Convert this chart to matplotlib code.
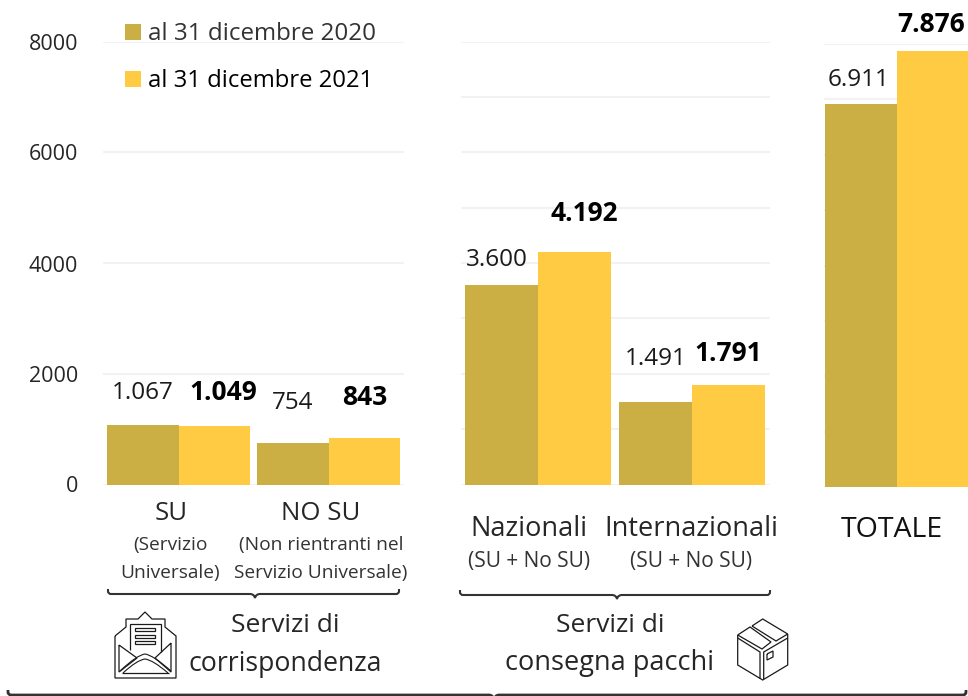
#!/usr/bin/env python3
"""Ricavi per servizio al 31 dicembre 2020 e 2021: three bar panels with annotations."""

import matplotlib
matplotlib.use("Agg")
import matplotlib.pyplot as plt
from matplotlib.patches import PathPatch, Rectangle
from matplotlib.path import Path

W, H = 968, 696
C_2020 = "#CBAF45"
C_2021 = "#FFCB43"
GRID = "#F2F2F2"
TXT = "#262626"

SERIES_2020 = "al 31 dicembre 2020"
SERIES_2021 = "al 31 dicembre 2021"

CORR_2020 = [1067, 754]
CORR_2021 = [1049, 843]
PACCHI_2020 = [3600, 1491]
PACCHI_2021 = [4192, 1791]
TOT_2020 = [6911]
TOT_2021 = [7876]

Y_TICKS = [0, 2000, 4000, 6000, 8000]
GRID_PACCHI = [0, 1000, 2000, 3000, 4000, 5000, 6000, 7000, 8000]

LABEL_FS = 17.5
BOLD_FS = 19

plt.rcParams["font.family"] = ["Open Sans", "DejaVu Sans"]


def fmt(v):
    return f"{v:,}".replace(",", ".")


def panel(fig, left, right, top, bottom, centre0, step, width, v0, v1, grid, off0, off1):
    ax = fig.add_axes([left / W, 1 - bottom / H, (right - left) / W, (bottom - top) / H])
    ax.set_xlim((left - centre0) / step, (right - centre0) / step)
    ax.set_ylim(0, 8000)
    x = list(range(len(v0)))
    ax.bar([i - width / 2 for i in x], v0, width, color=C_2020, zorder=3)
    ax.bar([i + width / 2 for i in x], v1, width, color=C_2021, zorder=3)
    ax.set_yticks(grid)
    ax.set_xticks([])
    ax.tick_params(left=False, labelleft=False)
    ax.grid(True, axis="y", color=GRID, lw=1.5, zorder=0)
    ax.set_axisbelow(True)
    for s in ax.spines.values():
        s.set_visible(False)
    ax.patch.set_alpha(0)
    for i in x:
        ax.annotate(fmt(v0[i]), (i - width / 2, v0[i]), xytext=off0[i],
                    textcoords="offset pixels", ha="center", va="center",
                    fontsize=LABEL_FS, color="#1a1a1a", zorder=5, annotation_clip=False)
        ax.annotate(fmt(v1[i]), (i + width / 2, v1[i]), xytext=off1[i],
                    textcoords="offset pixels", ha="center", va="center",
                    fontsize=BOLD_FS, fontweight="bold", color="black", zorder=5,
                    annotation_clip=False)
    return ax


def bracket(ax, x0, x1, y0, y1, notch, tip, lw=1.5):
    r = 3
    verts = [(x0, y0), (x0, y1 - r), (x0, y1), (x0 + r, y1), (notch - 5, y1),
             (notch - 1, y1), (notch, tip), (notch + 1, y1), (notch + 5, y1),
             (x1 - r, y1), (x1, y1), (x1, y1 - r), (x1, y0)]
    codes = [Path.MOVETO, Path.LINETO, Path.CURVE3, Path.CURVE3, Path.LINETO,
             Path.CURVE3, Path.CURVE3, Path.CURVE3, Path.CURVE3,
             Path.LINETO, Path.CURVE3, Path.CURVE3, Path.LINETO]
    ax.add_patch(PathPatch(Path(verts, codes), fc="none", ec="#333333", lw=lw))


def poly(ax, pts, lw=0.9, closed=False):
    if closed:
        pts = pts + [pts[0]]
    ax.plot([p[0] for p in pts], [p[1] for p in pts], color="#1a1a1a", lw=lw,
            solid_joinstyle="miter", solid_capstyle="butt")


def arch(ax, x0, xm, x1, y0, ym, lw=0.8):
    verts = [(x0, y0), (xm - 8, ym + 1), (xm, ym), (xm + 8, ym + 1), (x1, y0)]
    codes = [Path.MOVETO, Path.CURVE3, Path.CURVE3, Path.CURVE3, Path.CURVE3]
    ax.add_patch(PathPatch(Path(verts, codes), fc="none", ec="#1a1a1a", lw=lw))


def envelope(ax):
    poly(ax, [(115, 636), (126, 627), (126, 619), (138, 619), (145, 612), (152, 619),
              (165, 619), (165, 627), (176, 636), (176, 678), (115, 678)], closed=True)
    poly(ax, [(130, 650), (130, 624), (161, 624), (161, 652)])
    for y in (628, 634.5, 641):
        ax.add_patch(Rectangle((135, y), 20, 3.2, fc="none", ec="#1a1a1a", lw=0.9))
    poly(ax, [(119, 645), (137, 658), (119, 672)], closed=True)
    poly(ax, [(171, 643), (155, 658), (171, 672)], closed=True)
    poly(ax, [(122, 673), (169, 673)])
    arch(ax, 120, 145, 171, 671, 654)
    arch(ax, 123, 145, 168, 673, 659)


def box(ax):
    poly(ax, [(737.7, 635), (750, 627), (771, 642), (762, 649)], closed=True)
    poly(ax, [(752, 626), (762.7, 619), (787.7, 634), (776, 641)], closed=True)
    poly(ax, [(737.7, 635), (737.7, 665), (762.7, 680), (787.7, 665), (787.7, 634)])
    poly(ax, [(737.7, 638), (760, 652), (760, 679)])
    poly(ax, [(787.7, 638), (763.7, 652), (763.7, 679)])
    poly(ax, [(767, 654), (773, 651), (773, 657), (767, 660)], closed=True)


fig = plt.figure(figsize=(W / 100, H / 100), dpi=100)

panel(fig, 103, 404, 41.5, 484.5, 178.5, 150, 0.477, CORR_2020, CORR_2021, Y_TICKS,
      [(0, 32), (0, 40)], [(9, 34), (0, 40)])
panel(fig, 461, 770, 41.5, 484.5, 538, 154, 0.474, PACCHI_2020, PACCHI_2021, GRID_PACCHI,
      [(-5, 25), (0, 43)], [(10, 39), (0, 32)])
panel(fig, 824, 968, 44, 487, 897, 150, 0.477, TOT_2020, TOT_2021, GRID_PACCHI,
      [(-3, 24)], [(-2, 26)])

ov = fig.add_axes([0, 0, 1, 1], zorder=10)
ov.set_xlim(0, W)
ov.set_ylim(H, 0)
ov.axis("off")
ov.patch.set_alpha(0)


def t(x, y, s, fs, color=TXT, **kw):
    ov.text(x, y, s, fontsize=fs, color=color, ha="center", va="center", **kw)


for v, y in zip(Y_TICKS, [487, 377, 266, 155, 44]):
    ov.text(78, y, str(v), fontsize=15.5, color=TXT, ha="right", va="center")

ov.add_patch(Rectangle((125, 24), 16, 16, fc=C_2020, ec="none"))
ov.add_patch(Rectangle((125, 71), 16, 16, fc=C_2021, ec="none"))
ov.text(148, 34, SERIES_2020, fontsize=17.4, color="#333333", va="center")
ov.text(148, 81, SERIES_2021, fontsize=17.2, color="black", va="center")

t(171, 513, "SU", 18.5)
t(321, 513, "NO SU", 18.5)
t(170, 545, "(Servizio", 13.8, "#333333")
t(170, 573, "Universale)", 13.8, "#333333")
t(321, 545, "(Non rientranti nel", 13.8, "#333333")
t(321, 573, "Servizio Universale)", 13.8, "#333333")
t(529, 529, "Nazionali", 19.5)
t(529, 562, "(SU + No SU)", 15, "#333333")
t(691, 529, "Internazionali", 19.5)
t(691, 562, "(SU + No SU)", 15, "#333333")
t(892, 530, "TOTALE", 20.5, "#111111")
t(285, 626, "Servizi di", 19)
t(285, 664, "corrispondenza", 19.2)
t(610, 625, "Servizi di", 19)
t(610, 663, "consegna pacchi", 19.5)

bracket(ov, 108, 399, 589, 594, 255, 598)
bracket(ov, 460, 770, 590, 595, 617, 599)
# outer brace: the notch runs off the bottom edge
bracket(ov, 8, 966, 690, 695, 494, 700, lw=2)

envelope(ov)
box(ov)

fig.savefig("out.png", dpi=100)
